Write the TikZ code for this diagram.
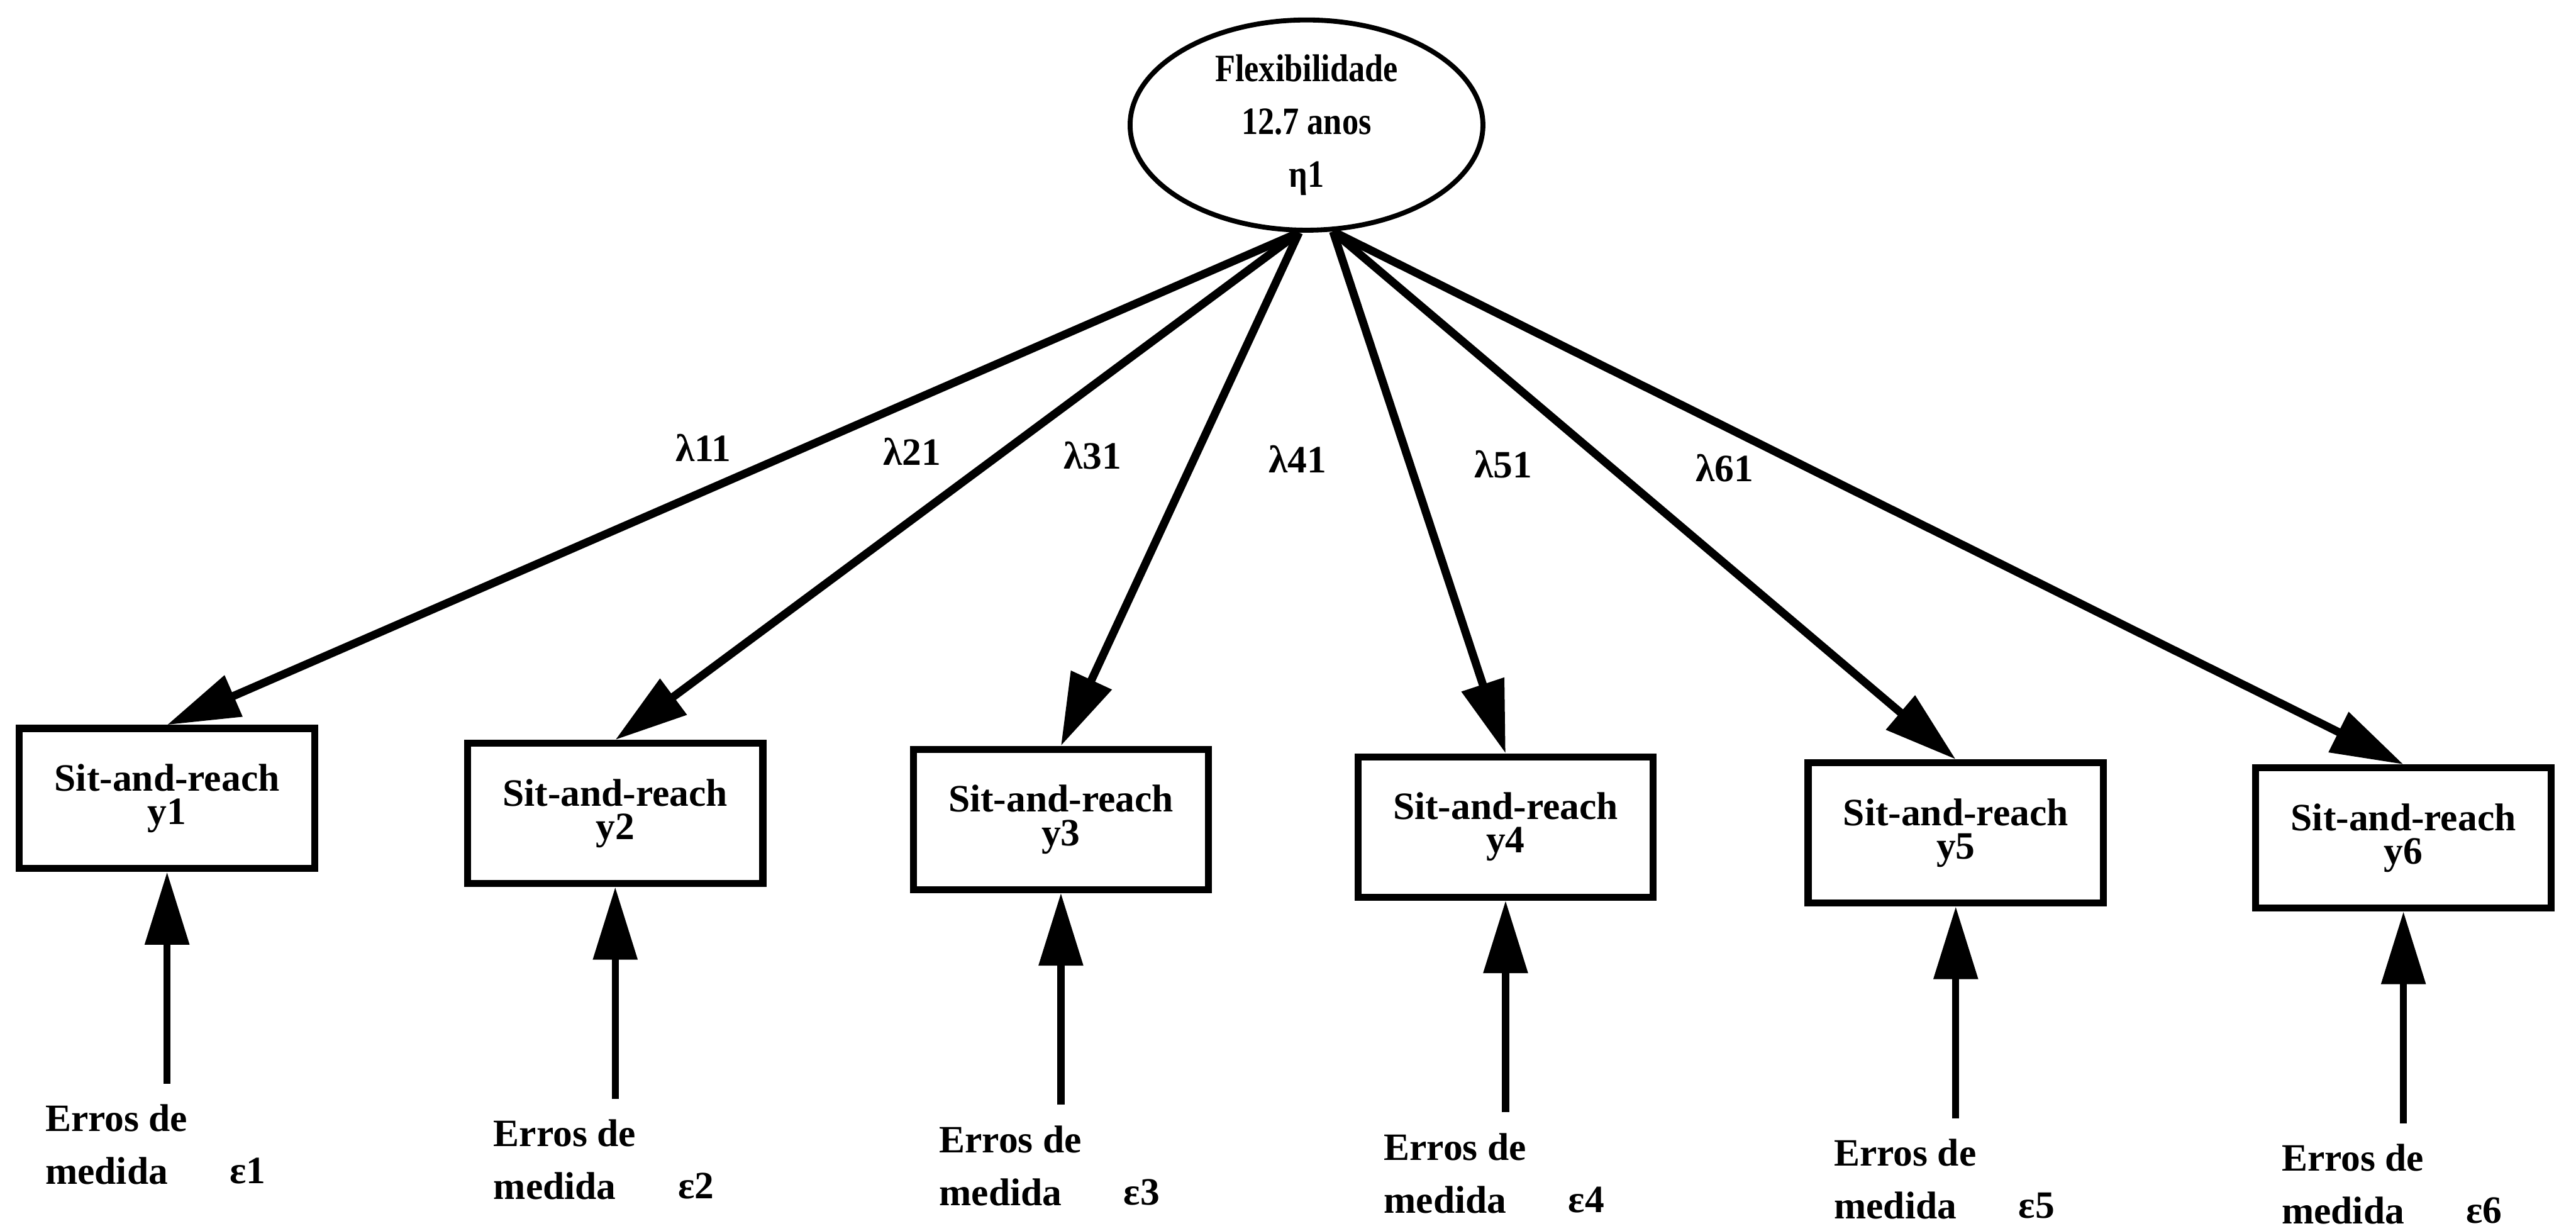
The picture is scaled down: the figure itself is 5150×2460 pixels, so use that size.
\documentclass[tikz,border=0pt]{standalone}
\usepackage{fontspec}
\setmainfont{Liberation Serif}
\newfontfamily\condfont{Liberation Serif}[FakeStretch=0.85]
\usetikzlibrary{arrows.meta,shapes.geometric}
\begin{document}
\begin{tikzpicture}[x=0.01cm,y=-0.01cm,
  obs/.style={draw,line width=4pt,minimum width=5.9cm,minimum height=2.8cm,inner sep=0pt,align=center,font=\fontsize{22}{19}\selectfont\bfseries},
  lat/.style={draw,ellipse,line width=2.8pt,minimum width=7.05cm,minimum height=4.2cm,inner sep=0pt,align=center,font=\condfont\fontsize{22}{30}\selectfont\bfseries},
  load/.style={line width=4.6pt,-{Triangle[length=1.45cm,width=0.86cm]}},
  err/.style={line width=4pt,-{Triangle[length=1.45cm,width=0.86cm]}},
  lab/.style={inner sep=0pt,font=\fontsize{22}{30}\selectfont\bfseries},
  errtxt/.style={align=left,anchor=west,inner sep=0pt,font=\fontsize{22}{30}\selectfont\bfseries},
  eps/.style={anchor=west,inner sep=0pt,font=\fontsize{22}{30}\selectfont\bfseries}
]
\useasboundingbox (0,0) rectangle (5150,2460);

\node[lat] (eta) at (2612,250) {Flexibilidade\\12.7 anos\\η1};

\node[obs] (y1) at (334,1596) {Sit-and-reach\\y1};
\node[obs] (y2) at (1230,1626) {Sit-and-reach\\y2};
\node[obs] (y3) at (2121,1638) {Sit-and-reach\\y3};
\node[obs] (y4) at (3010,1653) {Sit-and-reach\\y4};
\node[obs] (y5) at (3910,1665) {Sit-and-reach\\y5};
\node[obs] (y6) at (4805,1675) {Sit-and-reach\\y6};

\draw[load] (eta.266) -- (y1.north);
\draw[load] (eta.266) -- (y2.north);
\draw[load] (eta.266) -- (y3.north);
\draw[load] (eta.284) -- (y4.north);
\draw[load] (eta.284) -- (y5.north);
\draw[load] (eta.284) -- (y6.north);

\node[lab] (l11) at (1406,895) {λ11};
\node[lab] (l21) at (1823,902) {λ21};
\node[lab] (l31) at (2184,910) {λ31};
\node[lab] (l41) at (2594,918) {λ41};
\node[lab] (l51) at (3005,928) {λ51};
\node[lab] (l61) at (3448,936) {λ61};

\coordinate (e1) at (334,2166);
\coordinate (e2) at (1230,2196);
\coordinate (e3) at (2121,2208);
\coordinate (e4) at (3010,2223);
\coordinate (e5) at (3910,2235);
\coordinate (e6) at (4805,2245);

\draw[err] (e1) -- (y1.south);
\draw[err] (e2) -- (y2.south);
\draw[err] (e3) -- (y3.south);
\draw[err] (e4) -- (y4.south);
\draw[err] (e5) -- (y5.south);
\draw[err] (e6) -- (y6.south);

\node[errtxt] (t1) at (90,2288) {Erros de\\medida};
\node[errtxt] (t2) at (986,2318) {Erros de\\medida};
\node[errtxt] (t3) at (1877,2330) {Erros de\\medida};
\node[errtxt] (t4) at (2766,2345) {Erros de\\medida};
\node[errtxt] (t5) at (3666,2357) {Erros de\\medida};
\node[errtxt] (t6) at (4561,2367) {Erros de\\medida};

\node[eps] (s1) at (459,2341) {ε1};
\node[eps] (s2) at (1355,2371) {ε2};
\node[eps] (s3) at (2246,2383) {ε3};
\node[eps] (s4) at (3135,2398) {ε4};
\node[eps] (s5) at (4035,2410) {ε5};
\node[eps] (s6) at (4930,2420) {ε6};
\end{tikzpicture}
\end{document}
